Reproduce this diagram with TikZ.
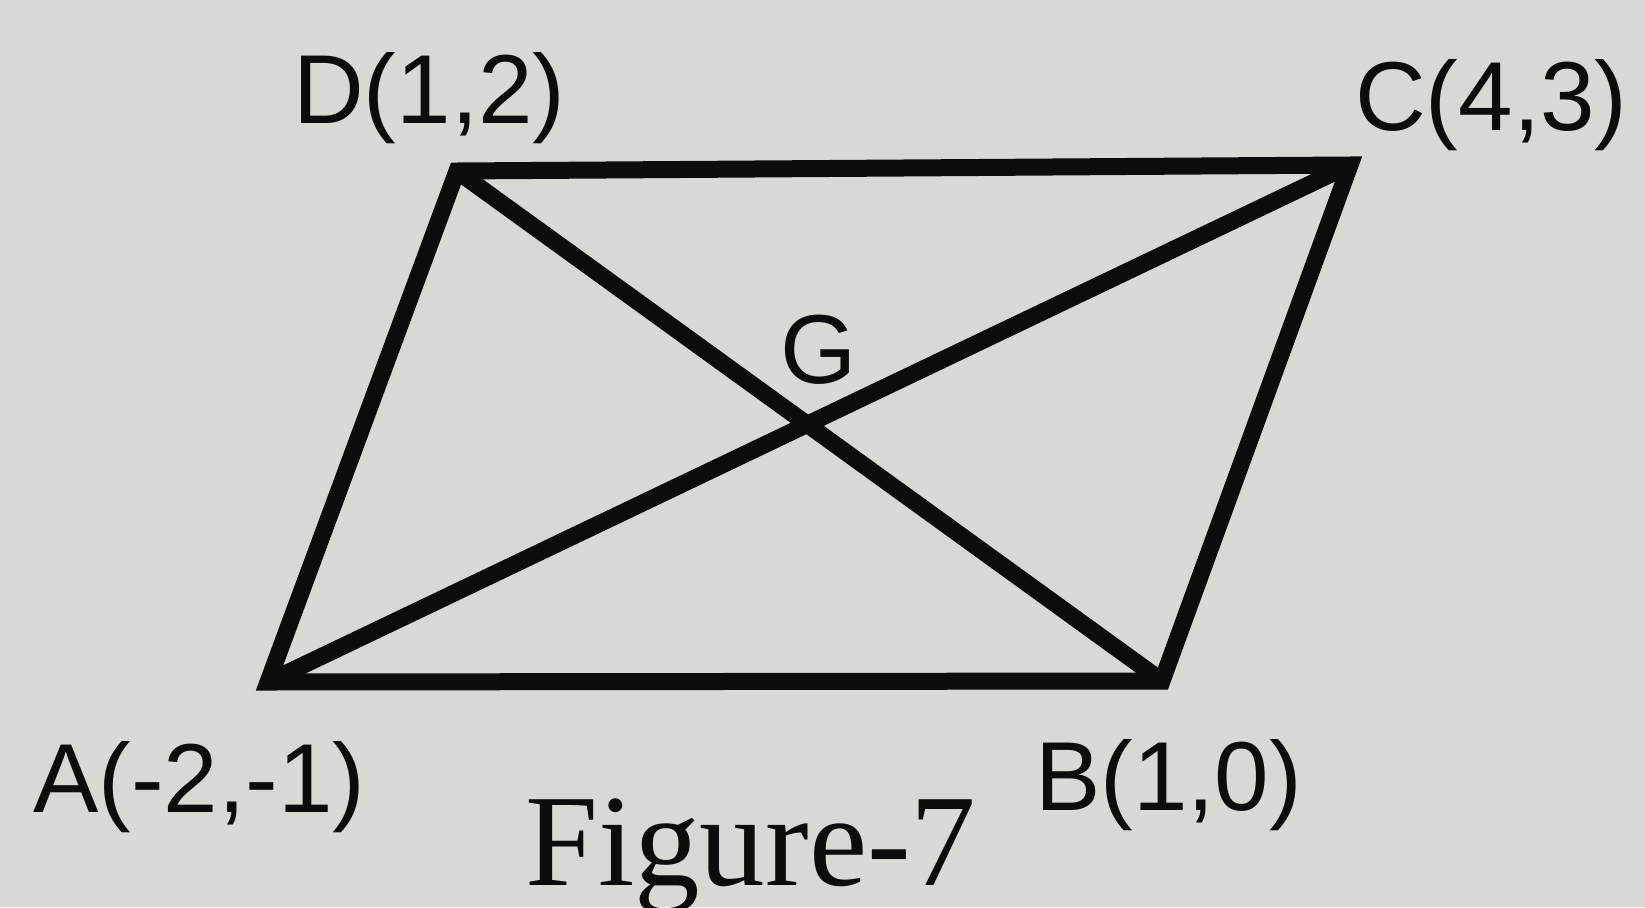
\documentclass[tikz,border=0pt]{standalone}
\usepackage{fontspec}
\setmainfont{Liberation Serif}
\newfontfamily\labfont{Liberation Sans}
\definecolor{paper}{RGB}{216,216,213}
\definecolor{ink}{RGB}{12,12,12}
\tikzset{
  edge/.style={draw=ink, line width=17pt, line join=miter},
  lab/.style={inner sep=0pt, anchor=base west, text=ink, font=\labfont\fontsize{98}{110}\selectfont},
  figcaption/.style={inner sep=0pt, anchor=base west, text=ink, font=\fontsize{131}{140}\selectfont}
}
\begin{document}
\begin{tikzpicture}[x=1pt,y=-1pt]
\fill[paper] (0,0) rectangle (1645,907);
\useasboundingbox (0,0) rectangle (1645,907);
\coordinate (A) at (268,682);
\coordinate (B) at (1162,681);
\coordinate (C) at (1350,165);
\coordinate (D) at (457,171);
\draw[edge] (A) -- (B) -- (C) -- (D) -- cycle;
\draw[edge] (A) -- (C);
\draw[edge] (B) -- (D);
\node[lab] (labD) at (293,123) {D(1,2)};
\node[lab] (labC) at (1355,130) {C(4,3)};
\node[lab] (labA) at (33,812) {A(-2,-1)};
\node[lab] (labB) at (1035,810) {B(1,0)};
\node[lab] (labG) at (780,383) {G};
\node[figcaption] (fig) at (525,885) {Figure-7};
\end{tikzpicture}
\end{document}
